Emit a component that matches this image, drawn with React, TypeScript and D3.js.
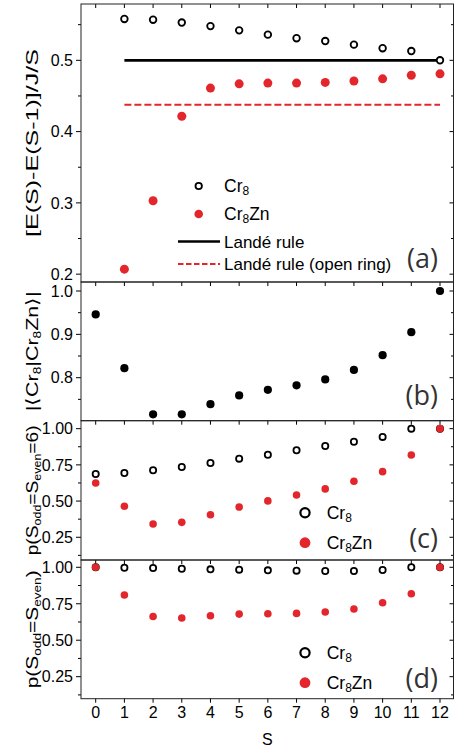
import React from "react";
import * as d3 from "d3";

// spin quantum number S
const spins = [0, 1, 2, 3, 4, 5, 6, 7, 8, 9, 10, 11, 12];

// (a) [E(S)-E(S-1)]/J/S
const gapCr8 = [null, 0.558, 0.557, 0.553, 0.548, 0.542, 0.536, 0.531, 0.527, 0.522, 0.517, 0.513, 0.5];
const gapCr8Zn = [null, 0.207, 0.303, 0.4215, 0.461, 0.467, 0.468, 0.468, 0.469, 0.471, 0.474, 0.479, 0.481];
const landeRule = 0.5;
const landeOpenRing = 0.4375;
const landeSpan = [1, 12];

// (b) |<Cr8|Cr8Zn>|
const overlap = [0.946, 0.822, 0.7155, 0.7155, 0.739, 0.759, 0.772, 0.7825, 0.796, 0.818, 0.852, 0.905, 1.0];

// (c) p(Sodd=Seven=6)
const pSix_Cr8 = [0.687, 0.694, 0.713, 0.735, 0.763, 0.793, 0.82, 0.851, 0.88, 0.91, 0.943, 1.0, 1.0];
const pSix_Cr8Zn = [0.625, 0.464, 0.342, 0.353, 0.406, 0.459, 0.501, 0.542, 0.584, 0.637, 0.703, 0.818, 1.0];

// (d) p(Sodd=Seven)
const pEq_Cr8 = [1.0, 0.997, 0.995, 0.99, 0.986, 0.984, 0.979, 0.977, 0.975, 0.975, 0.981, 1.0, 1.0];
const pEq_Cr8Zn = [1.0, 0.81, 0.663, 0.652, 0.668, 0.679, 0.681, 0.684, 0.693, 0.714, 0.757, 0.819, 1.0];

const ticksA = [0.2, 0.3, 0.4, 0.5];
const minorA = [0.25, 0.35, 0.45, 0.55];
const ticksB = [0.8, 0.9, 1.0];
const minorB = [0.75, 0.85, 0.95];
const ticksP = [0.25, 0.5, 0.75, 1.0];
const minorP = [0.125, 0.375, 0.625, 0.875];

const RED = "#e3262c";
const FONT = "'Liberation Sans', Arial, sans-serif";
const LABEL_FONT = "'Open Sans', sans-serif";

const left = 81;
const right = 453.5;
const x = d3.scaleLinear().domain([0, 12]).range([95.7, 440]);

const Sub = ({ children, size = 11 }: any) => (
  <tspan fontSize={size} baselineShift="-28%">{children}</tspan>
);

const panels = [
  {
    id: "a", top: 4, bottom: 282, domain: [0.189, 0.579],
    majors: ticksA, minors: minorA, fmt: d3.format(".1f"), titleLen: 188,
    title: <>[E(S)-E(S-1)]/J/S</>, labelY: 268,
  },
  {
    id: "b", top: 282, bottom: 420.7, domain: [0.7008, 1.0208],
    majors: ticksB, minors: minorB, fmt: d3.format(".1f"), titleLen: 120,
    title: <>|⟨Cr<Sub>8</Sub>|Cr<Sub>8</Sub>Zn⟩|</>, labelY: 405,
  },
  {
    id: "c", top: 420.7, bottom: 560, domain: [0.093, 1.055],
    majors: ticksP, minors: minorP, fmt: d3.format(".2f"), titleLen: 130,
    title: <>p(S<Sub>odd</Sub>=S<Sub>even</Sub>=6)</>, labelY: 548,
  },
  {
    id: "d", top: 560, bottom: 698.7, domain: [0.099, 1.05],
    majors: ticksP, minors: minorP, fmt: d3.format(".2f"), titleLen: 118,
    title: <>p(S<Sub>odd</Sub>=S<Sub>even</Sub>)</>, labelY: 688,
  },
];

const yOf = (p: any) => d3.scaleLinear().domain(p.domain).range([p.bottom, p.top]);

const OpenDots = ({ vals, y, r = 3.3, sw = 1.8 }: any) => (
  <g>
    {vals.map((v: number | null, i: number) =>
      v == null ? null : (
        <circle key={i} cx={x(spins[i])} cy={y(v)} r={r} fill="white" stroke="black" strokeWidth={sw} />
      )
    )}
  </g>
);

const FilledDots = ({ vals, y, r = 4.2, color = RED }: any) => (
  <g>
    {vals.map((v: number | null, i: number) =>
      v == null ? null : <circle key={i} cx={x(spins[i])} cy={y(v)} r={r} fill={color} />
    )}
  </g>
);

const Frame = ({ p }: any) => {
  const y = yOf(p);
  const mid = (p.top + p.bottom) / 2;
  return (
    <g>
      {/* y ticks */}
      {p.majors.map((t: number) => (
        <g key={"M" + t}>
          <line x1={left - 5} x2={left} y1={y(t)} y2={y(t)} stroke="black" />
          <line x1={right - 4} x2={right} y1={y(t)} y2={y(t)} stroke="black" />
          <text x={73} y={y(t)} dy="0.36em" textAnchor="end" fontSize={16} fontFamily={FONT}>
            {p.fmt(t)}
          </text>
        </g>
      ))}
      {p.minors.map((t: number) => (
        <g key={"m" + t}>
          <line x1={left - 3} x2={left} y1={y(t)} y2={y(t)} stroke="black" />
          <line x1={right - 2.5} x2={right} y1={y(t)} y2={y(t)} stroke="black" />
        </g>
      ))}
      {/* top ticks, inward */}
      {spins.map((s) => (
        <line key={s} x1={x(s)} x2={x(s)} y1={p.top} y2={p.top + 4} stroke="black" />
      ))}
      <rect x={left} y={p.top} width={right - left} height={p.bottom - p.top}
        fill="none" stroke="#222" strokeWidth={1} />
      <text transform={`translate(38,${mid}) rotate(-90)`} textAnchor="middle"
        fontSize={17} fontFamily={FONT} textLength={p.titleLen} lengthAdjust="spacingAndGlyphs">
        {p.title}
      </text>
      <text x={438} y={p.labelY} textAnchor="end" fontSize={27} fontFamily={LABEL_FONT} fill="#333">
        ({p.id})
      </text>
    </g>
  );
};

export default function App() {
  const [pa, pb, pc, pd] = panels;
  const ya = yOf(pa);
  const yb = yOf(pb);
  const yc = yOf(pc);
  const yd = yOf(pd);

  const legendText = (tx: number, ty: number, zn: boolean) => (
    <text x={tx} y={ty} fontSize={17.5} fontFamily={FONT}>
      Cr<Sub size={12}>8</Sub>{zn ? "Zn" : ""}
    </text>
  );

  return (
    <svg width={454} height={751} style={{ position: "absolute", left: 0, top: 0, background: "white" }}>
      {panels.map((p) => (
        <Frame key={p.id} p={p} />
      ))}

      {/* bottom x axis */}
      {spins.map((s) => (
        <g key={s}>
          <line x1={x(s)} x2={x(s)} y1={pd.bottom} y2={pd.bottom + 4} stroke="black" />
          <text x={x(s)} y={718} textAnchor="middle" fontSize={16} fontFamily={FONT}>{s}</text>
        </g>
      ))}
      <text x={(left + right) / 2} y={745} textAnchor="middle" fontSize={16} fontFamily={FONT}>S</text>

      {/* (a) */}
      <line x1={x(landeSpan[0])} x2={x(landeSpan[1])} y1={ya(landeRule)} y2={ya(landeRule)}
        stroke="black" strokeWidth={2.7} />
      <line x1={x(landeSpan[0])} x2={x(landeSpan[1])} y1={ya(landeOpenRing)} y2={ya(landeOpenRing)}
        stroke={RED} strokeWidth={2} strokeDasharray="7,3" />
      <OpenDots vals={gapCr8} y={ya} />
      <FilledDots vals={gapCr8Zn} y={ya} r={4.5} />
      <circle cx={198.7} cy={186} r={3.2} fill="white" stroke="black" strokeWidth={1.8} />
      {legendText(224, 192, false)}
      <circle cx={198.7} cy={214} r={4.3} fill={RED} />
      {legendText(224, 220, true)}
      <line x1={178} x2={220} y1={241.5} y2={241.5} stroke="black" strokeWidth={2.7} />
      <text x={224} y={247.5} fontSize={17} fontFamily={FONT}>Landé rule</text>
      <line x1={178} x2={220} y1={264} y2={264} stroke={RED} strokeWidth={2} strokeDasharray="5.5,2.5" />
      <text x={224} y={270} fontSize={17} fontFamily={FONT}>Landé rule (open ring)</text>

      {/* (b) */}
      <FilledDots vals={overlap} y={yb} r={4.1} color="black" />

      {/* (c) */}
      <OpenDots vals={pSix_Cr8} y={yc} r={3.1} />
      <FilledDots vals={pSix_Cr8Zn} y={yc} r={3.8} />
      <circle cx={305} cy={512.7} r={4.6} fill="white" stroke="black" strokeWidth={2.2} />
      {legendText(326.7, 519, false)}
      <circle cx={305} cy={542.7} r={5.4} fill={RED} />
      {legendText(326.7, 549, true)}

      {/* (d) */}
      <OpenDots vals={pEq_Cr8} y={yd} r={3.1} />
      <FilledDots vals={pEq_Cr8Zn} y={yd} r={3.8} />
      <circle cx={305} cy={652.7} r={4.6} fill="white" stroke="black" strokeWidth={2.2} />
      {legendText(326.7, 659, false)}
      <circle cx={305} cy={682.7} r={5.4} fill={RED} />
      {legendText(326.7, 689, true)}
    </svg>
  );
}
